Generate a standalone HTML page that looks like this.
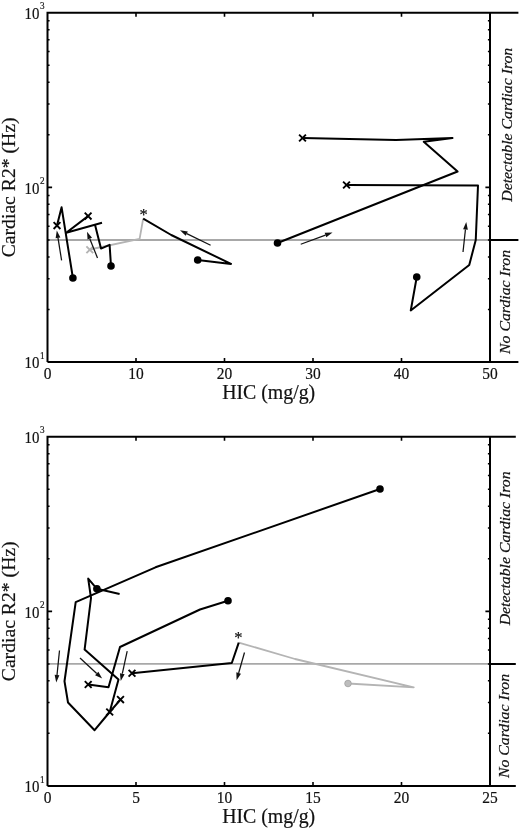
<!DOCTYPE html>
<html><head><meta charset="utf-8"><style>
html,body{margin:0;padding:0;background:#fff}
svg{display:block;will-change:transform}
text{font-family:"Liberation Serif",serif;fill:#111;stroke:#111;stroke-width:0.2px}
</style></head><body>
<svg width="520" height="828" viewBox="0 0 520 828">
<rect width="520" height="828" fill="#fff"/>
<line x1="47.5" y1="239.96" x2="490.0" y2="239.96" stroke="#a8a8a8" stroke-width="1.9"/>
<path d="M47.5 362.0 V12.8 H518.4 M47.5 362.0 H518.4 M490.0 12.8 V362.0 M490.0 239.96 H518.4" fill="none" stroke="#000" stroke-width="2"/>
<path d="M136.00 362.0 v-4 M136.00 12.8 v4 M224.50 362.0 v-4 M224.50 12.8 v4 M313.00 362.0 v-4 M313.00 12.8 v4 M401.50 362.0 v-4 M401.50 12.8 v4 M47.5 187.40 h4.6 M490.0 187.40 h-4.6" fill="none" stroke="#000" stroke-width="1.6"/>
<path d="M47.5 309.44 h2.1 M490.0 309.44 h-2.1 M47.5 278.69 h2.1 M490.0 278.69 h-2.1 M47.5 256.88 h2.1 M490.0 256.88 h-2.1 M47.5 239.96 h2.1 M490.0 239.96 h-2.1 M47.5 226.13 h2.1 M490.0 226.13 h-2.1 M47.5 214.45 h2.1 M490.0 214.45 h-2.1 M47.5 204.32 h2.1 M490.0 204.32 h-2.1 M47.5 195.39 h2.1 M490.0 195.39 h-2.1 M47.5 134.84 h2.1 M490.0 134.84 h-2.1 M47.5 104.09 h2.1 M490.0 104.09 h-2.1 M47.5 82.28 h2.1 M490.0 82.28 h-2.1 M47.5 65.36 h2.1 M490.0 65.36 h-2.1 M47.5 51.53 h2.1 M490.0 51.53 h-2.1 M47.5 39.85 h2.1 M490.0 39.85 h-2.1 M47.5 29.72 h2.1 M490.0 29.72 h-2.1 M47.5 20.79 h2.1 M490.0 20.79 h-2.1" fill="none" stroke="#000" stroke-width="1.5"/>
<text transform="translate(47.50 379.30) scale(0.91 1)" font-size="17" text-anchor="middle" fill="#111">0</text>
<text transform="translate(136.00 379.30) scale(0.91 1)" font-size="17" text-anchor="middle" fill="#111">10</text>
<text transform="translate(224.50 379.30) scale(0.91 1)" font-size="17" text-anchor="middle" fill="#111">20</text>
<text transform="translate(313.00 379.30) scale(0.91 1)" font-size="17" text-anchor="middle" fill="#111">30</text>
<text transform="translate(401.50 379.30) scale(0.91 1)" font-size="17" text-anchor="middle" fill="#111">40</text>
<text transform="translate(490.00 379.30) scale(0.91 1)" font-size="17" text-anchor="middle" fill="#111">50</text>
<text transform="translate(24.50 19.00) scale(0.875 1)" font-size="17" text-anchor="start" fill="#111">10</text>
<text transform="translate(40.00 9.00) scale(0.84 1)" font-size="10.9" text-anchor="start" fill="#111">3</text>
<text transform="translate(24.50 193.60) scale(0.875 1)" font-size="17" text-anchor="start" fill="#111">10</text>
<text transform="translate(40.00 184.10) scale(0.84 1)" font-size="10.9" text-anchor="start" fill="#111">2</text>
<text transform="translate(24.50 368.20) scale(0.875 1)" font-size="17" text-anchor="start" fill="#111">10</text>
<text transform="translate(40.00 358.70) scale(0.84 1)" font-size="10.9" text-anchor="start" fill="#111">1</text>
<text transform="translate(268.70 398.60) scale(0.968 1)" font-size="20.5" text-anchor="middle" fill="#111">HIC (mg/g)</text>
<text transform="translate(14.70 187.40) rotate(-90) scale(1.015 1)" font-size="19.4" text-anchor="middle" fill="#111">Cardiac R2* (Hz)</text>
<text transform="translate(512.00 124.75) rotate(-90) scale(1.06 1)" font-size="14.9" text-anchor="middle" font-style="italic" fill="#111">Detectable Cardiac Iron</text>
<text transform="translate(509.60 301.90) rotate(-90) scale(1.06 1)" font-size="14.9" text-anchor="middle" font-style="italic" fill="#111">No Cardiac Iron</text>
<line x1="47.5" y1="663.89" x2="490.0" y2="663.89" stroke="#a8a8a8" stroke-width="1.9"/>
<path d="M47.5 785.9 V436.8 H515.8 M47.5 785.9 H515.8 M490.0 436.8 V785.9 M490.0 663.89 H515.8" fill="none" stroke="#000" stroke-width="2"/>
<path d="M136.00 785.9 v-4 M136.00 436.8 v4 M224.50 785.9 v-4 M224.50 436.8 v4 M313.00 785.9 v-4 M313.00 436.8 v4 M401.50 785.9 v-4 M401.50 436.8 v4 M47.5 611.35 h4.6 M490.0 611.35 h-4.6" fill="none" stroke="#000" stroke-width="1.6"/>
<path d="M47.5 733.36 h2.1 M490.0 733.36 h-2.1 M47.5 702.62 h2.1 M490.0 702.62 h-2.1 M47.5 680.81 h2.1 M490.0 680.81 h-2.1 M47.5 663.89 h2.1 M490.0 663.89 h-2.1 M47.5 650.07 h2.1 M490.0 650.07 h-2.1 M47.5 638.39 h2.1 M490.0 638.39 h-2.1 M47.5 628.27 h2.1 M490.0 628.27 h-2.1 M47.5 619.34 h2.1 M490.0 619.34 h-2.1 M47.5 558.81 h2.1 M490.0 558.81 h-2.1 M47.5 528.07 h2.1 M490.0 528.07 h-2.1 M47.5 506.26 h2.1 M490.0 506.26 h-2.1 M47.5 489.34 h2.1 M490.0 489.34 h-2.1 M47.5 475.52 h2.1 M490.0 475.52 h-2.1 M47.5 463.84 h2.1 M490.0 463.84 h-2.1 M47.5 453.72 h2.1 M490.0 453.72 h-2.1 M47.5 444.79 h2.1 M490.0 444.79 h-2.1" fill="none" stroke="#000" stroke-width="1.5"/>
<text transform="translate(47.50 803.20) scale(0.91 1)" font-size="17" text-anchor="middle" fill="#111">0</text>
<text transform="translate(136.00 803.20) scale(0.91 1)" font-size="17" text-anchor="middle" fill="#111">5</text>
<text transform="translate(224.50 803.20) scale(0.91 1)" font-size="17" text-anchor="middle" fill="#111">10</text>
<text transform="translate(313.00 803.20) scale(0.91 1)" font-size="17" text-anchor="middle" fill="#111">15</text>
<text transform="translate(401.50 803.20) scale(0.91 1)" font-size="17" text-anchor="middle" fill="#111">20</text>
<text transform="translate(490.00 803.20) scale(0.91 1)" font-size="17" text-anchor="middle" fill="#111">25</text>
<text transform="translate(24.50 443.00) scale(0.875 1)" font-size="17" text-anchor="start" fill="#111">10</text>
<text transform="translate(40.00 433.00) scale(0.84 1)" font-size="10.9" text-anchor="start" fill="#111">3</text>
<text transform="translate(24.50 617.55) scale(0.875 1)" font-size="17" text-anchor="start" fill="#111">10</text>
<text transform="translate(40.00 608.05) scale(0.84 1)" font-size="10.9" text-anchor="start" fill="#111">2</text>
<text transform="translate(24.50 792.10) scale(0.875 1)" font-size="17" text-anchor="start" fill="#111">10</text>
<text transform="translate(40.00 782.60) scale(0.84 1)" font-size="10.9" text-anchor="start" fill="#111">1</text>
<text transform="translate(268.70 822.50) scale(0.968 1)" font-size="20.5" text-anchor="middle" fill="#111">HIC (mg/g)</text>
<text transform="translate(14.70 611.30) rotate(-90) scale(1.015 1)" font-size="19.4" text-anchor="middle" fill="#111">Cardiac R2* (Hz)</text>
<text transform="translate(509.50 548.35) rotate(-90) scale(1.06 1)" font-size="14.9" text-anchor="middle" font-style="italic" fill="#111">Detectable Cardiac Iron</text>
<text transform="translate(509.30 726.00) rotate(-90) scale(1.06 1)" font-size="14.9" text-anchor="middle" font-style="italic" fill="#111">No Cardiac Iron</text>
<path d="M89.8 249.5 L139.6 238.9 L143.2 218.7" fill="none" stroke="#b4b4b4" stroke-width="1.8" stroke-linejoin="round"/>
<path d="M86.39999999999999 246.4 L93.2 253.20000000000002 M86.39999999999999 253.20000000000002 L93.2 246.4" stroke="#b4b4b4" stroke-width="1.9" fill="none"/>
<path d="M57 225.6 L61.6 207.3 L72.9 278" fill="none" stroke="#000" stroke-width="2.0" stroke-linejoin="round"/>
<path d="M88.1 216.1 L66.2 232.8 L102 222.8" fill="none" stroke="#000" stroke-width="2.0" stroke-linejoin="round"/>
<path d="M95 224.8 L101 248.6 L109.6 244.8 L111 266" fill="none" stroke="#000" stroke-width="2.0" stroke-linejoin="round"/>
<path d="M53.6 222.2 L60.4 229.0 M53.6 229.0 L60.4 222.2" stroke="#000" stroke-width="1.9" fill="none"/>
<path d="M84.69999999999999 212.7 L91.5 219.5 M84.69999999999999 219.5 L91.5 212.7" stroke="#000" stroke-width="1.9" fill="none"/>
<circle cx="72.9" cy="278" r="3.8" fill="#000" />
<circle cx="111" cy="266" r="3.8" fill="#000" />
<path d="M143.2 218.7 L171.25 235 L231 263.9 L197.7 260" fill="none" stroke="#000" stroke-width="2.0" stroke-linejoin="round"/>
<circle cx="197.7" cy="260" r="3.8" fill="#000" />
<text x="143.6" y="219.6" font-size="16.5" text-anchor="middle" fill="#000" stroke="#000" stroke-width="0.5">*</text>
<path d="M302.5 138 L396 140 L452.5 138 L423.75 141.75 L457.6 171.5 L277.5 243" fill="none" stroke="#000" stroke-width="2.0" stroke-linejoin="round"/>
<path d="M299.1 134.6 L305.9 141.4 M299.1 141.4 L305.9 134.6" stroke="#000" stroke-width="1.9" fill="none"/>
<circle cx="277.5" cy="243" r="3.8" fill="#000" />
<path d="M346.5 185 L478 185.5 L475.75 240 L469.25 265 L410.75 310.5 L416.75 277" fill="none" stroke="#000" stroke-width="2.0" stroke-linejoin="round"/>
<path d="M343.1 181.6 L349.9 188.4 M343.1 188.4 L349.9 181.6" stroke="#000" stroke-width="1.9" fill="none"/>
<circle cx="416.75" cy="277" r="3.8" fill="#000" />
<line x1="61.6" y1="260.4" x2="57.99" y2="237.91" stroke="#111" stroke-width="1.25"/><path d="M56.8 230.5 L60.36 237.52 L55.62 238.29 Z" fill="#111"/>
<line x1="97.5" y1="258" x2="89.78" y2="238.67" stroke="#111" stroke-width="1.25"/><path d="M87 231.7 L92.01 237.78 L87.55 239.56 Z" fill="#111"/>
<line x1="210.6" y1="245.2" x2="186.74" y2="233.58" stroke="#111" stroke-width="1.25"/><path d="M180 230.3 L187.79 231.43 L185.69 235.74 Z" fill="#111"/>
<line x1="300.75" y1="244.25" x2="325.47" y2="235.10" stroke="#111" stroke-width="1.25"/><path d="M332.5 232.5 L326.30 237.35 L324.63 232.85 Z" fill="#111"/>
<line x1="463" y1="252" x2="465.44" y2="229.46" stroke="#111" stroke-width="1.25"/><path d="M466.25 222 L467.83 229.71 L463.06 229.20 Z" fill="#111"/>
<path d="M238.75 642.6 L295 659 L413.75 687.4 L348 683.5" fill="none" stroke="#b4b4b4" stroke-width="1.8" stroke-linejoin="round"/>
<circle cx="348" cy="683.5" r="3.3" fill="#bdbdbd" stroke="#a0a0a0" stroke-width="0.8"/>
<path d="M380 489 L155.5 567.3 L75.7 602.2 L64.5 681.25 L68 702.5 L94.6 730.2 L109.7 712 L120.5 699.6" fill="none" stroke="#000" stroke-width="2.0" stroke-linejoin="round"/>
<circle cx="380" cy="489" r="3.8" fill="#000" />
<path d="M117.1 696.2 L123.9 703.0 M117.1 703.0 L123.9 696.2" stroke="#000" stroke-width="1.9" fill="none"/>
<path d="M119.6 594 L96.9 588.8 L88.2 578.6 L91 598 L84.6 649.6 L118.5 679.6 L109.7 712" fill="none" stroke="#000" stroke-width="2.0" stroke-linejoin="round"/>
<circle cx="96.9" cy="588.8" r="3.8" fill="#000" />
<path d="M106.3 708.6 L113.10000000000001 715.4 M106.3 715.4 L113.10000000000001 708.6" stroke="#000" stroke-width="1.9" fill="none"/>
<path d="M228 600.8 L200 609.5 L120 647 L108.5 687.3 L88.2 684.5" fill="none" stroke="#000" stroke-width="2.0" stroke-linejoin="round"/>
<circle cx="228" cy="600.8" r="3.8" fill="#000" />
<path d="M84.8 681.1 L91.60000000000001 687.9 M84.8 687.9 L91.60000000000001 681.1" stroke="#000" stroke-width="1.9" fill="none"/>
<path d="M132 673.2 L231.8 663 L238.75 642.6" fill="none" stroke="#000" stroke-width="2.0" stroke-linejoin="round"/>
<path d="M128.6 669.8000000000001 L135.4 676.6 M128.6 676.6 L135.4 669.8000000000001" stroke="#000" stroke-width="1.9" fill="none"/>
<text x="238.4" y="642.6" font-size="16.5" text-anchor="middle" fill="#000" stroke="#000" stroke-width="0.5">*</text>
<line x1="59.5" y1="650.5" x2="57.01" y2="675.04" stroke="#111" stroke-width="1.25"/><path d="M56.25 682.5 L54.62 674.80 L59.40 675.28 Z" fill="#111"/>
<line x1="80" y1="658" x2="96.70" y2="673.50" stroke="#111" stroke-width="1.25"/><path d="M102.2 678.6 L95.07 675.26 L98.33 671.74 Z" fill="#111"/>
<line x1="127.2" y1="651.2" x2="122.30" y2="673.67" stroke="#111" stroke-width="1.25"/><path d="M120.7 681 L119.95 673.16 L124.64 674.18 Z" fill="#111"/>
<line x1="244.5" y1="652.5" x2="238.66" y2="672.99" stroke="#111" stroke-width="1.25"/><path d="M236.6 680.2 L236.35 672.33 L240.96 673.65 Z" fill="#111"/>
</svg>
</body></html>
